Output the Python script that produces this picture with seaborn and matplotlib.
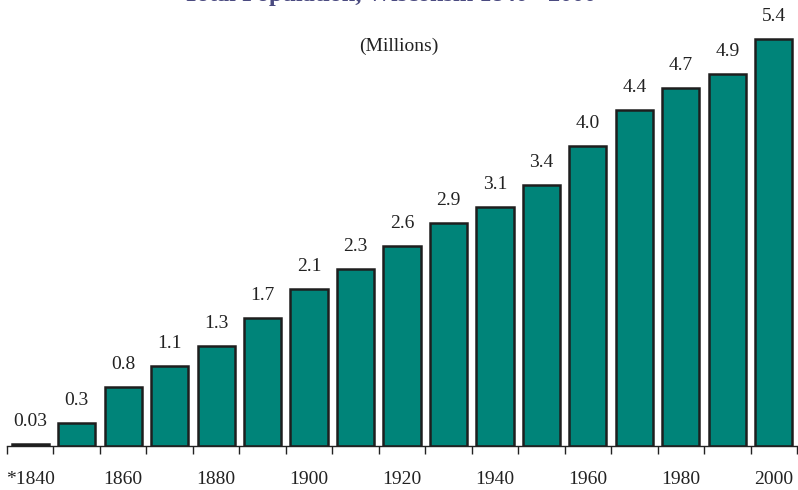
import matplotlib
matplotlib.use("Agg")
import matplotlib.pyplot as plt
import seaborn as sns
import pandas as pd

years = [1840, 1850, 1860, 1870, 1880, 1890, 1900, 1910, 1920, 1930,
         1940, 1950, 1960, 1970, 1980, 1990, 2000]
population = [0.03, 0.30, 0.78, 1.05, 1.32, 1.69, 2.07, 2.33, 2.63, 2.94,
              3.14, 3.43, 3.95, 4.42, 4.71, 4.89, 5.36]
value_labels = ["0.03", "0.3", "0.8", "1.1", "1.3", "1.7", "2.1", "2.3", "2.6",
                "2.9", "3.1", "3.4", "4.0", "4.4", "4.7", "4.9", "5.4"]
tick_labels = ["*1840", "", "1860", "", "1880", "", "1900", "", "1920", "",
               "1940", "", "1960", "", "1980", "", "2000"]
title = "Total Population, Wisconsin 1840 - 2000"
subtitle = "(Millions)"

sns.set_theme(style="white")
plt.rcParams["font.family"] = ["Liberation Serif", "DejaVu Serif"]

df = pd.DataFrame({"year": [str(y) for y in years], "pop": population})

W, H = 798, 490
fig = plt.figure(figsize=(W / 100, H / 100), dpi=100)
ymax = 5.6
px_per_unit = 76.0
base_y = 446
ax_h = ymax * px_per_unit
ax = fig.add_axes([7 / W, 1 - base_y / H, 790 / W, ax_h / H])

sns.barplot(data=df, x="year", y="pop", color="#008479", saturation=1,
            edgecolor="#1e1e1e", linewidth=1.8, width=0.8, ax=ax)

ax.set_xlim(-0.5, len(years) - 0.5)
ax.set_ylim(0, ymax)
ax.bar_label(ax.containers[0], labels=value_labels, padding=10, fontsize=14,
             color="#222222")

for s in ["left", "right", "top"]:
    ax.spines[s].set_visible(False)
ax.spines["bottom"].set_color("#222222")
ax.spines["bottom"].set_linewidth(1.0)
ax.set_yticks([])
ax.set_xticks(range(len(years)))
ax.set_xticklabels(tick_labels, fontsize=14, color="#222222")
ax.tick_params(axis="x", which="major", length=0, pad=18)
ax.set_xticks([i - 0.5 for i in range(len(years) + 1)], minor=True)
ax.tick_params(axis="x", which="minor", length=6, width=1.0, color="#222222",
               bottom=True)
ax.set_xlabel("")
ax.set_ylabel("")

fig.text(0.488, 1 - 1.5 / H, title, ha="center", va="baseline", fontsize=17.5,
         fontweight="bold", color="#4a4a80")
fig.text(0.50, 1 - 46 / H, subtitle, ha="center", va="center", fontsize=14,
         color="#222222")

fig.savefig("out.png", dpi=100)
